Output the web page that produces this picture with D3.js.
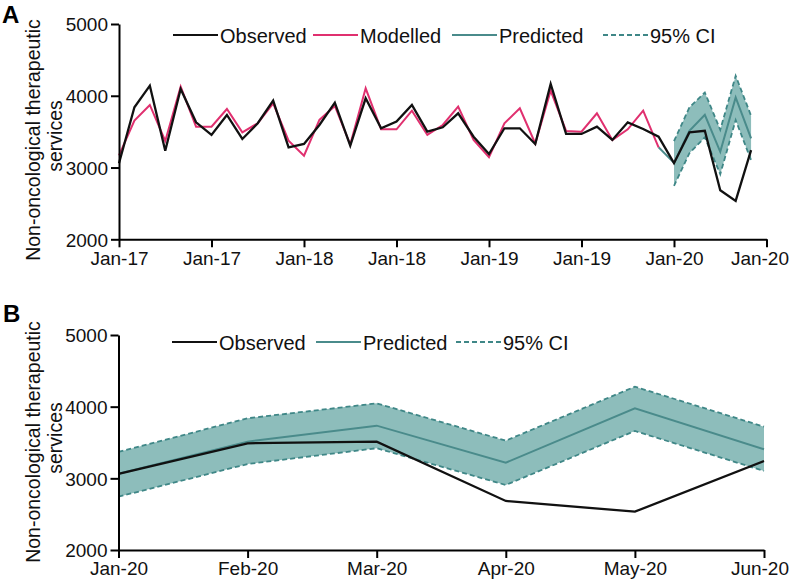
<!DOCTYPE html>
<html>
<head>
<meta charset="utf-8">
<script src="https://cdn.jsdelivr.net/npm/d3@7"></script>
<style>
  html, body { margin: 0; padding: 0; background: #fff; }
  svg { display: block; font-family: "Liberation Sans", Arial, sans-serif; }
</style>
</head>
<body>
<svg id="chart" width="791" height="582"></svg>
<script>
// ---------- DATA ----------
// Panel A: monthly index 0 = Jan-17 ... 41 = Jun-20
const tickLabelsA = ["Jan-17", "Jan-17", "Jan-18", "Jan-18", "Jan-19", "Jan-19", "Jan-20", "Jan-20"];
const observed = [3060, 3840, 4141, 3235, 4095, 3630, 3454, 3732, 3398, 3617,
                  3932, 3282, 3328, 3593, 3904, 3305, 3965, 3547, 3640, 3872,
                  3500, 3561, 3756, 3430, 3189, 3547, 3547, 3328, 4164, 3468,
                  3468, 3570, 3384, 3630, 3537, 3430, 3061, 3489, 3512, 2684,
                  2535, 3242];
const modelled = [3170, 3653, 3872, 3370, 4127, 3570, 3570, 3816, 3491, 3617,
                  3895, 3375, 3165, 3663, 3858, 3320, 4104, 3533, 3533, 3793,
                  3454, 3593, 3848, 3384, 3143, 3617, 3825, 3335, 4071, 3510,
                  3500, 3756, 3384, 3533, 3793, 3282];
// Panel B: Jan-20 ... Jun-20
const monthsB = ["Jan-20", "Feb-20", "Mar-20", "Apr-20", "May-20", "Jun-20"];
const predicted = [3065, 3512, 3735, 3219, 3977, 3406];
const ciUpper = [3368, 3838, 4046, 3526, 4279, 3721];
const ciLower = [2744, 3200, 3420, 2907, 3661, 3103];
const yTicks = [2000, 3000, 4000, 5000];
const yTitle = ["Non-oncological therapeutic", "services"];

// ---------- STYLE ----------
const C_OBS = "#111111", C_MOD = "#e0306f", C_PRED = "#4a8b8b",
      C_FILL = "#8dbdbb", C_CI = "#3f8787";
const svg = d3.select("#chart");
const predStart = observed.length - predicted.length; // 36 = Jan-20

function drawAxes(g, x, y, xTicks, xFmt) {
  const ya = g.append("g").attr("transform", `translate(${x.range()[0]},0)`)
    .call(d3.axisLeft(y).tickValues(yTicks).tickSize(8).tickSizeOuter(0).tickPadding(3).tickFormat(d3.format("d")));
  const xa = g.append("g").attr("transform", `translate(0,${y.range()[0]})`)
    .call(d3.axisBottom(x).tickValues(xTicks).tickSize(8).tickSizeOuter(0).tickPadding(4).tickFormat(xFmt));
  [ya, xa].forEach(a => {
    a.attr("font-family", null).attr("font-size", null);
    a.select(".domain").attr("stroke", "#000").attr("stroke-width", 2);
    a.selectAll(".tick line").attr("stroke", "#000").attr("stroke-width", 2);
    a.selectAll(".tick text").attr("fill", "#111").style("font-size", "19px");
  });
  ya.selectAll(".tick text").attr("dy", "0.36em");
  // keep the last label inside the page edge
  const texts = xa.selectAll(".tick text").nodes();
  const last = texts[texts.length - 1];
  const bb = last.getBBox();
  const ctm = last.getCTM();
  const right = ctm.e + bb.x + bb.width;
  if (right > 789) d3.select(last).attr("dx", 789 - right);
}

function yTitleDraw(cy, x1, x2) {
  svg.append("text").attr("transform", `translate(${x1},${cy}) rotate(-90)`)
    .attr("text-anchor", "middle").style("font-size", "19.5px").attr("fill", "#111").text(yTitle[0]);
  svg.append("text").attr("transform", `translate(${x2},${cy - 4}) rotate(-90)`)
    .attr("text-anchor", "middle").style("font-size", "19.5px").attr("fill", "#111").text(yTitle[1]);
}

function legend(items, ly) {
  const lg = svg.append("g");
  items.forEach(it => {
    lg.append("line").attr("x1", it.x).attr("x2", it.x + 45).attr("y1", ly).attr("y2", ly)
      .attr("stroke", it.color).attr("stroke-width", 2)
      .attr("stroke-dasharray", it.dash ? "5,3" : null);
    lg.append("text").attr("x", it.x + 47).attr("y", ly + 8).style("font-size", "20px")
      .attr("fill", "#111").text(it.label);
  });
}

// ---------- PANEL A ----------
{
  const x = d3.scaleLinear().domain([0, 42]).range([119, 766.5]);
  const y = d3.scaleLinear().domain([2000, 5000]).range([239.3, 24]);
  const g = svg.append("g");
  const idx = d3.range(predicted.length);
  const band = d3.area().x(i => x(predStart + i)).y0(i => y(ciLower[i])).y1(i => y(ciUpper[i]));
  g.append("path").datum(idx).attr("d", band).attr("fill", C_FILL);
  const lineCI = arr => d3.line().x(i => x(predStart + i)).y(i => y(arr[i]));
  g.append("path").datum(idx).attr("d", lineCI(ciUpper)).attr("fill", "none")
    .attr("stroke", C_CI).attr("stroke-width", 1.8).attr("stroke-dasharray", "5,3");
  g.append("path").datum(idx).attr("d", lineCI(ciLower)).attr("fill", "none")
    .attr("stroke", C_CI).attr("stroke-width", 1.8).attr("stroke-dasharray", "5,3");
  const predA = [{i: modelled.length - 1, v: modelled[modelled.length - 1]}]
    .concat(predicted.map((v, k) => ({i: predStart + k, v})));
  g.append("path").datum(predA).attr("d", d3.line().x(d => x(d.i)).y(d => y(d.v)))
    .attr("fill", "none").attr("stroke", C_PRED).attr("stroke-width", 2);
  g.append("path").datum(modelled).attr("d", d3.line().x((d, i) => x(i)).y(d => y(d)))
    .attr("fill", "none").attr("stroke", C_MOD).attr("stroke-width", 2);
  g.append("path").datum(observed).attr("d", d3.line().x((d, i) => x(i)).y(d => y(d)))
    .attr("fill", "none").attr("stroke", C_OBS).attr("stroke-width", 2.3);
  drawAxes(g, x, y, d3.range(0, 43, 6), (d, i) => tickLabelsA[i]);
  yTitleDraw(140, 40, 62);
  svg.append("text").attr("x", 2).attr("y", 23).style("font-size", "24px").style("font-weight", "bold")
    .attr("fill", "#000").text("A");
  legend([
    {x: 173, label: "Observed", color: C_OBS},
    {x: 313, label: "Modelled", color: C_MOD},
    {x: 452, label: "Predicted", color: C_PRED},
    {x: 603, label: "95% CI", color: C_CI, dash: true}
  ], 35);
}

// ---------- PANEL B ----------
{
  const x = d3.scaleLinear().domain([0, monthsB.length - 1]).range([118.5, 764]);
  const y = d3.scaleLinear().domain([2000, 5000]).range([550, 335]);
  const g = svg.append("g");
  const idx = d3.range(predicted.length);
  g.append("path").datum(idx)
    .attr("d", d3.area().x(i => x(i)).y0(i => y(ciLower[i])).y1(i => y(ciUpper[i])))
    .attr("fill", C_FILL);
  [ciUpper, ciLower].forEach(arr => {
    g.append("path").datum(arr).attr("d", d3.line().x((d, i) => x(i)).y(d => y(d)))
      .attr("fill", "none").attr("stroke", C_CI).attr("stroke-width", 1.8).attr("stroke-dasharray", "5,3");
  });
  g.append("path").datum(predicted).attr("d", d3.line().x((d, i) => x(i)).y(d => y(d)))
    .attr("fill", "none").attr("stroke", C_PRED).attr("stroke-width", 2);
  const obsB = observed.slice(predStart);
  g.append("path").datum(obsB).attr("d", d3.line().x((d, i) => x(i)).y(d => y(d)))
    .attr("fill", "none").attr("stroke", C_OBS).attr("stroke-width", 2.3);
  drawAxes(g, x, y, d3.range(monthsB.length), (d, i) => monthsB[i]);
  yTitleDraw(442, 40, 62);
  svg.append("text").attr("x", 3).attr("y", 322).style("font-size", "24px").style("font-weight", "bold")
    .attr("fill", "#000").text("B");
  legend([
    {x: 172, label: "Observed", color: C_OBS},
    {x: 316, label: "Predicted", color: C_PRED},
    {x: 456, label: "95% CI", color: C_CI, dash: true}
  ], 342);
}
</script>
</body>
</html>
